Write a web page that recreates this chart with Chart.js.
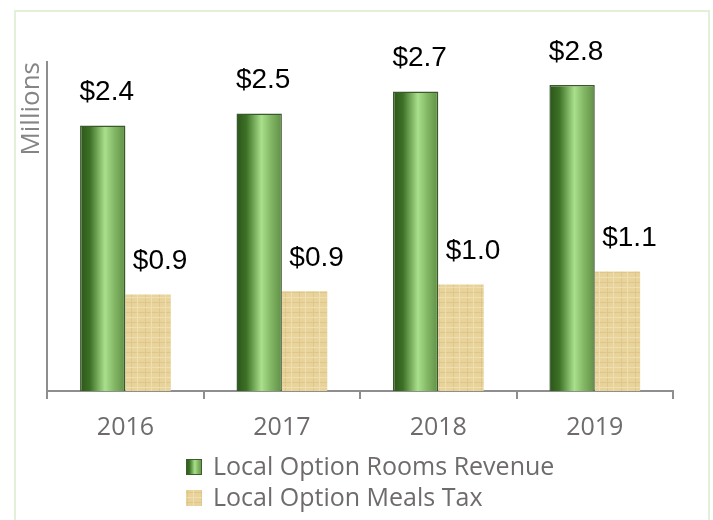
<!DOCTYPE html>
<html>
<head>
<meta charset="utf-8">
<script src="https://cdn.jsdelivr.net/npm/chart.js@4.4.1/dist/chart.umd.min.js"></script>
<style>
  html, body { margin: 0; padding: 0; background: #fff; }
  #wrap { position: relative; width: 713px; height: 520px; overflow: hidden; }
  #frame { position: absolute; left: 14px; top: 10px; width: 692px; height: 540px; border: 2px solid #e1f0d6; }
  #chart { position: absolute; left: 0; top: 0; }
</style>
</head>
<body>
<div id="wrap">
  <div id="frame"></div>
  <canvas id="chart" width="713" height="520"></canvas>
</div>
<script>
// ---- data (millions) ----
const years = ['2016', '2017', '2018', '2019'];
const roomsRevenue = [2.42, 2.53, 2.73, 2.79];
const mealsTax = [0.88, 0.91, 0.97, 1.09];
const seriesNames = ['Local Option Rooms Revenue', 'Local Option Meals Tax'];

const CAT_PCT = 0.58;
const axisGray = '#8e8e8e';
const textGray = '#6f6b6b';

// beveled green look: horizontal gradient across each bar
function greenFill(ctx2d, left, right) {
  const g = ctx2d.createLinearGradient(left, 0, right, 0);
  g.addColorStop(0, '#2b5519');
  g.addColorStop(0.22, '#3d7126');
  g.addColorStop(0.55, '#a9e08c');
  g.addColorStop(0.75, '#84b866');
  g.addColorStop(1, '#5f8f45');
  return g;
}

function greenBar(c) {
  const chart = c.chart;
  const x = chart.scales.x;
  if (!chart.chartArea || !x) return '#6a9d4c';
  const center = x.getPixelForValue(c.dataIndex);
  const group = (x.width / years.length) * CAT_PCT;
  return greenFill(chart.ctx, center - group / 2, center);
}

// tan woven texture for the meals bars
function tanPattern() {
  const p = document.createElement('canvas');
  p.width = 14; p.height = 10;
  const g = p.getContext('2d');
  g.fillStyle = '#e8d39b';
  g.fillRect(0, 0, 14, 10);
  g.fillStyle = '#dec68d';
  g.fillRect(0, 2, 14, 1);
  g.fillRect(5, 0, 1, 10);
  g.fillStyle = '#efdeb0';
  g.fillRect(0, 7, 14, 1);
  g.fillRect(11, 0, 1, 10);
  return document.getElementById('chart').getContext('2d').createPattern(p, 'repeat');
}

// value labels above bars
const valueLabels = {
  id: 'valueLabels',
  afterDatasetsDraw(chart) {
    const ctx = chart.ctx;
    ctx.save();
    ctx.font = '28px "Liberation Sans", Arial, sans-serif';
    ctx.fillStyle = '#000';
    ctx.textAlign = 'center';
    ctx.textBaseline = 'middle';
    chart.data.datasets.forEach((ds, di) => {
      const shift = di === 0 ? 4 : 12;
      chart.getDatasetMeta(di).data.forEach((bar, i) => {
        ctx.fillText('$' + ds.data[i].toFixed(1), bar.x + shift, bar.y - 33);
      });
    });
    ctx.restore();
  }
};

// stacked legend below the axis
const stackedLegend = {
  id: 'stackedLegend',
  afterDraw(chart) {
    const ctx = chart.ctx;
    const left = 186, rows = [467, 498], box = 16;
    ctx.save();
    ctx.font = '25px "Open Sans", sans-serif';
    ctx.textBaseline = 'middle';
    chart.data.datasets.forEach((ds, di) => {
      const y = rows[di];
      ctx.fillStyle = di === 0 ? greenFill(ctx, left, left + box) : ds.backgroundColor;
      ctx.fillRect(left, y - box / 2, box, box);
      if (di === 0) {
        ctx.strokeStyle = '#3b5e2a';
        ctx.lineWidth = 1;
        ctx.strokeRect(left + 0.5, y - box / 2 + 0.5, box - 1, box - 1);
      }
      ctx.fillStyle = textGray;
      ctx.fillText(ds.label, left + 27, y + 1);
    });
    ctx.restore();
  }
};

new Chart(document.getElementById('chart'), {
  type: 'bar',
  data: {
    labels: years,
    datasets: [{
      label: seriesNames[0],
      data: roomsRevenue,
      backgroundColor: greenBar,
      borderColor: '#3a5a2c',
      borderWidth: 1.5,
      categoryPercentage: CAT_PCT,
      barPercentage: 1.0
    }, {
      label: seriesNames[1],
      data: mealsTax,
      backgroundColor: tanPattern(),
      borderWidth: 0,
      categoryPercentage: CAT_PCT,
      barPercentage: 1.0
    }]
  },
  options: {
    responsive: false,
    animation: false,
    layout: { padding: { left: 8, right: 40, top: 62, bottom: 63 } },
    scales: {
      x: {
        grid: {
          display: true,
          drawOnChartArea: false,
          drawTicks: true,
          tickLength: 8,
          color: axisGray,
          lineWidth: 2,
          offset: true
        },
        border: { display: true, color: axisGray, width: 2 },
        ticks: {
          color: textGray,
          padding: 14,
          font: { family: '"Open Sans", sans-serif', size: 25 }
        }
      },
      y: {
        min: 0,
        max: 3,
        grid: { display: false, drawTicks: false },
        border: { display: true, color: axisGray, width: 2 },
        ticks: { display: false },
        title: {
          display: true,
          text: 'Millions',
          align: 'end',
          color: '#858585',
          padding: { top: 8, bottom: 0 },
          font: { family: '"Open Sans", sans-serif', size: 26 }
        }
      }
    },
    plugins: {
      legend: { display: false },
      tooltip: { enabled: false }
    }
  },
  plugins: [valueLabels, stackedLegend]
});
</script>
</body>
</html>
